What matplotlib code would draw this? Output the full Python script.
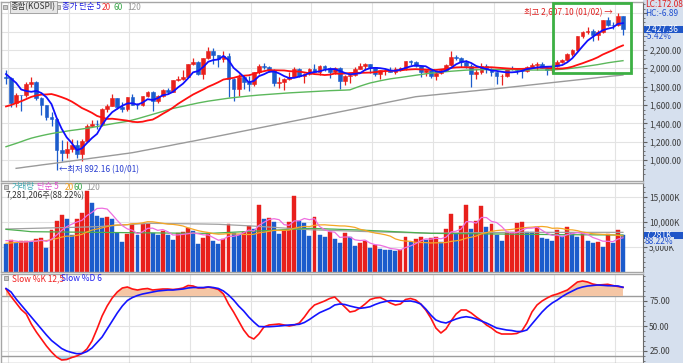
import numpy as np
import pandas as pd
import matplotlib.pyplot as plt
from matplotlib.patches import Rectangle
from matplotlib.transforms import blended_transform_factory

plt.rcParams['font.family'] = ['Noto Sans CJK KR', 'DejaVu Sans']

W, H = 683, 363

# KOSPI monthly candles, 2007/12 .. 2018/02
months = pd.period_range('2007-12', periods=123, freq='M')
opens = [1906, 1897, 1625, 1712, 1704, 1825, 1852, 1675, 1595, 1474,
         1448, 1113, 1076, 1124, 1162, 1063, 1206, 1369, 1396, 1390,
         1557, 1592, 1673, 1581, 1556, 1683, 1602, 1595, 1693, 1742,
         1641, 1698, 1759, 1743, 1873, 1883, 1905, 2051, 2070, 1939,
         2107, 2192, 2142, 2101, 2133, 1880, 1770, 1909, 1848, 1826,
         1956, 2030, 2014, 1982, 1843, 1854, 1882, 1905, 1996, 1912,
         1933, 1997, 1962, 2026, 2005, 1964, 2001, 1863, 1914, 1926,
         1997, 2030, 2045, 2011, 1941, 1980, 1986, 1962, 1995, 2002,
         2076, 2069, 2020, 1964, 1981, 1916, 1949, 1986, 2041, 2127,
         2115, 2074, 2030, 1941, 1963, 2029, 1992, 1961, 1912, 1917,
         1996, 1994, 1983, 1970, 2016, 2035, 2044, 2008, 1983, 2026,
         2068, 2092, 2160, 2205, 2347, 2392, 2403, 2363, 2394, 2523,
         2476, 2474, 2566]
highs = [1978, 1901, 1730, 1714, 1847, 1901, 1863, 1689, 1605, 1524,
         1463, 1217, 1205, 1229, 1223, 1227, 1392, 1438, 1436, 1564,
         1612, 1723, 1676, 1632, 1692, 1723, 1627, 1702, 1757, 1750,
         1712, 1773, 1790, 1876, 1917, 1978, 2052, 2117, 2082, 2113,
         2231, 2218, 2144, 2190, 2172, 1890, 1938, 1931, 1920, 1965,
         2044, 2057, 2025, 1996, 1904, 1890, 1961, 2014, 2000, 1945,
         2004, 2042, 2034, 2034, 2009, 2009, 2010, 1926, 1933, 2016,
         2063, 2060, 2052, 2013, 1982, 1990, 2009, 2018, 2017, 2082,
         2093, 2079, 2027, 1984, 1988, 1962, 1990, 2048, 2190, 2147,
         2126, 2094, 2047, 1992, 2055, 2044, 2004, 1964, 1940, 2001,
         2022, 1998, 2001, 2028, 2063, 2074, 2068, 2014, 2046, 2089,
         2106, 2168, 2210, 2355, 2402, 2453, 2430, 2414, 2528, 2562,
         2507, 2607.10, 2570]
lows = [1832, 1575, 1580, 1537, 1686, 1791, 1652, 1488, 1437, 1366,
        892.16, 992, 1017, 1085, 1018, 992, 1195, 1355, 1333, 1374,
        1528, 1584, 1560, 1520, 1532, 1600, 1552, 1590, 1684, 1532,
        1617, 1687, 1722, 1741, 1861, 1872, 1905, 2040, 1925, 1882,
        2100, 2052, 2016, 2066, 1685, 1644, 1695, 1776, 1750, 1807,
        1942, 1996, 1960, 1808, 1780, 1758, 1868, 1900, 1905, 1845,
        1929, 1946, 1930, 1969, 1890, 1942, 1770, 1818, 1845, 1918,
        1994, 1983, 1948, 1920, 1886, 1930, 1961, 1939, 1966, 1986,
        2036, 2018, 1900, 1919, 1889, 1876, 1939, 1977, 2030, 2086,
        2012, 2007, 1800, 1886, 1940, 1953, 1914, 1829, 1817, 1909,
        1980, 1941, 1892, 1963, 2004, 1985, 2002, 1931, 1953, 2018,
        2060, 2075, 2136, 2194, 2328, 2379, 2300, 2310, 2385, 2466,
        2427, 2460, 2364]
closes = [1897, 1625, 1712, 1704, 1825, 1852, 1675, 1595, 1474, 1448,
          1113, 1076, 1124, 1162, 1063, 1206, 1369, 1396, 1390, 1557,
          1592, 1673, 1581, 1556, 1683, 1602, 1595, 1693, 1742, 1641,
          1698, 1759, 1743, 1873, 1883, 1905, 2051, 2070, 1939, 2107,
          2192, 2142, 2101, 2133, 1880, 1770, 1909, 1848, 1826, 1956,
          2030, 2014, 1982, 1843, 1854, 1882, 1905, 1996, 1912, 1933,
          1997, 1962, 2026, 2005, 1964, 2001, 1863, 1914, 1926, 1997,
          2030, 2045, 2011, 1941, 1980, 1986, 1962, 1995, 2002, 2076,
          2069, 2020, 1964, 1981, 1916, 1949, 1986, 2041, 2127, 2115,
          2074, 2030, 1941, 1963, 2029, 1992, 1961, 1912, 1917, 1996,
          1994, 1983, 1970, 2016, 2035, 2044, 2008, 1983, 2026, 2068,
          2092, 2160, 2205, 2347, 2392, 2403, 2363, 2394, 2523, 2476,
          2467, 2566, 2427.36]
# volume in thousand (K)
volumes = [5500, 6300, 5800, 6100, 6150, 6000, 6500, 6800, 4800, 8300,
           10100, 11300, 10500, 7300, 10500, 11700, 16100, 13700, 11200, 10800,
           10850, 10600, 7800, 6000, 7500, 9500, 7300, 9500, 9550, 7700,
           7300, 8100, 7300, 6300, 7800, 7850, 8700, 8100, 5500, 6700,
           7700, 6100, 5500, 6500, 9600, 7700, 7300, 7900, 9200, 8500,
           13300, 10500, 10700, 10000, 7500, 8300, 9900, 15100, 10100, 9800,
           7100, 10900, 7300, 6900, 7900, 6500, 5700, 7700, 6900, 5100,
           5800, 6100, 4700, 5300, 4530, 4400, 4300, 4100, 4400, 7000,
           6000, 6500, 7000, 6330, 6670, 7000, 5930, 8530, 11600, 7470,
           9130, 13330, 8470, 10130, 13200, 9000, 9530, 7330, 6200, 7870,
           7900, 9800, 9870, 8000, 7970, 8930, 6670, 6630, 6130, 8330,
           7130, 8930, 7670, 7000, 7670, 6130, 5800, 5930, 5000, 7530,
           5800, 8330, 7281]

# the 19 months before the first candle (feed the 5 and 20 averages)
pre_closes = [1317, 1295, 1297, 1352, 1371, 1364, 1419, 1434, 1360, 1417,
              1453, 1542, 1700, 1743, 1933, 1873, 1946, 2064, 1906]
pre_volumes = [4600, 4200, 4300, 4800, 4500, 5000, 5300, 4600, 5000, 5200,
               5800, 6500, 7500, 7200, 7800, 6400, 6200, 7000, 6000]

# long averages
ma60 = [1145, 1163, 1181, 1200, 1220, 1238, 1252, 1265, 1277, 1288,
        1298, 1305, 1315, 1323, 1330, 1338, 1346, 1355, 1365, 1375,
        1385, 1395, 1404, 1413, 1422, 1436, 1450, 1466, 1482, 1498,
        1514, 1530, 1548, 1562, 1574, 1586, 1598, 1610, 1622, 1632,
        1642, 1650, 1658, 1666, 1674, 1680, 1686, 1692, 1698, 1703,
        1708, 1712, 1716, 1720, 1724, 1728, 1732, 1735, 1738, 1741,
        1744, 1747, 1750, 1753, 1756, 1758, 1760, 1762, 1765, 1785,
        1805, 1823, 1840, 1852, 1864, 1875, 1885, 1893, 1900, 1908,
        1916, 1924, 1932, 1940, 1947, 1953, 1958, 1963, 1968, 1972,
        1976, 1980, 1982, 1984, 1985, 1986, 1987, 1987, 1987, 1986,
        1985, 1984, 1983, 1982, 1981, 1981, 1981, 1981, 1983, 1986,
        1990, 1995, 2001, 2008, 2016, 2024, 2032, 2040, 2050, 2060,
        2068, 2076, 2083]
ma120 = [np.nan, np.nan, 909, 916, 924, 931, 938, 946, 953, 960,
         967, 975, 982, 990, 997, 1005, 1012, 1020, 1027, 1035,
         1042, 1050, 1057, 1065, 1072, 1080, 1090, 1101, 1111, 1122,
         1132, 1143, 1153, 1164, 1175, 1185, 1196, 1206, 1217, 1228,
         1239, 1250, 1261, 1272, 1283, 1294, 1305, 1316, 1327, 1338,
         1349, 1360, 1371, 1382, 1393, 1404, 1415, 1426, 1437, 1448,
         1459, 1470, 1481, 1492, 1503, 1514, 1525, 1536, 1547, 1558,
         1569, 1580, 1591, 1602, 1613, 1624, 1635, 1646, 1657, 1668,
         1679, 1690, 1696, 1701, 1707, 1712, 1718, 1723, 1729, 1734,
         1740, 1745, 1751, 1756, 1762, 1767, 1773, 1778, 1784, 1790,
         1796, 1802, 1808, 1814, 1820, 1826, 1832, 1838, 1844, 1850,
         1856, 1862, 1868, 1874, 1880, 1886, 1892, 1898, 1904, 1910,
         1916, 1921, 1927]
vol_ma60 = [8470, 8380, 8290, 8200, 8100, 8000, 7990, 7980, 7970, 7960,
            7950, 7940, 7930, 7920, 7910, 7900, 7890, 7880, 7870, 7860,
            7850, 7840, 7830, 7820, 7810, 7800, 7790, 7780, 7770, 7760,
            7750, 7740, 7730, 7720, 7710, 7700, 7690, 7680, 7680, 7670,
            7670, 7700, 7750, 7800, 7850, 7900, 7950, 8000, 8050, 8100,
            8150, 8200, 8250, 8300, 8350, 8400, 8450, 8500, 8550, 8620,
            8670, 8640, 8610, 8580, 8540, 8510, 8470, 8440, 8400, 8370,
            8340, 8290, 8240, 8190, 8150, 8100, 8050, 8000, 7960, 7910,
            7860, 7810, 7760, 7720, 7670, 7660, 7650, 7640, 7630, 7620,
            7610, 7600, 7590, 7580, 7570, 7560, 7550, 7540, 7530, 7520,
            7510, 7500, 7490, 7480, 7470, 7460, 7450, 7440, 7430, 7420,
            7410, 7400, 7400, 7390, 7380, 7380, 7370, 7360, 7360, 7350,
            7350, 7340, 7340]
vol_ma120 = [8540, 8560, 8590, 8610, 8640, 8660, 8690, 8710, 8740, 8760,
             8790, 8810, 8840, 8860, 8890, 8920, 8950, 8980, 9000, 9070,
             9140, 9200, 9270, 9340, 9400, 9470, 9540, 9600, 9670, 9660,
             9650, 9640, 9620, 9610, 9600, 9590, 9580, 9560, 9550, 9540,
             9520, 9500, 9480, 9430, 9380, 9330, 9280, 9230, 9180, 9120,
             9060, 9000, 8930, 8870, 8800, 8730, 8670, 8600, 8530, 8470,
             8400, 8370, 8330, 8300, 8270, 8230, 8200, 8170, 8130, 8100,
             8060, 8030, 8000, 7970, 7950, 7920, 7900, 7870, 7850, 7820,
             7800, 7770, 7750, 7730, 7700, 7710, 7720, 7730, 7740, 7750,
             7760, 7770, 7780, 7790, 7800, 7810, 7820, 7830, 7840, 7850,
             7860, 7870, 7870, 7870, 7870, 7870, 7870, 7870, 7870, 7870,
             7870, 7870, 7870, 7870, 7870, 7870, 7870, 7870, 7870, 7870,
             7870, 7870, 7870]

# slow stochastics (12,5) / (6)
slow_k = [87, 79.5, 73, 66.5, 62, 52, 44, 37, 30, 24,
          19, 16, 16.5, 18.5, 20, 22.5, 27, 35, 47, 60,
          70, 78, 84, 88, 89, 87, 86, 87, 87.5, 86,
          86.5, 87, 87, 86.5, 87, 88, 90.5, 90, 88, 88,
          89, 88, 86.5, 82, 72, 64, 55, 46, 39.5, 37,
          42, 49, 51, 51.5, 52, 51, 50, 51, 53, 59,
          66, 71, 73, 75, 77.5, 79, 74, 69, 64, 65,
          68, 72, 76.5, 78, 78.5, 76, 73, 71, 72, 76.5,
          77.5, 76, 72, 66, 58, 48, 43, 47, 55, 62,
          66, 66, 63, 59, 55.5, 51, 48, 44, 42, 42,
          42, 42.5, 45, 53, 64, 71, 75, 78, 80.5, 82,
          84, 86, 90, 94, 95, 94, 92, 91, 91.3, 91.7,
          90.5, 89.5, 88.7]
slow_d = [87.5, 84, 77, 71, 65, 59, 53, 47, 41, 35.5,
          31.5, 27.5, 25, 23.5, 22.3, 22.5, 24.5, 28, 33.5, 39,
          47, 55, 63, 70, 75.5, 78.5, 80.5, 82, 83, 84,
          85, 85.5, 86, 86, 86.5, 87, 88, 88.5, 88.5, 88.5,
          89, 88.5, 87.5, 85, 81, 76, 70, 65, 59, 54,
          49.5, 49.3, 49.3, 49.6, 50, 50.5, 51, 51.3, 51.7, 53.5,
          56.5, 60, 63.3, 65.5, 67.7, 71, 72, 71.5, 70, 68.8,
          67.7, 68.3, 69.3, 71.5, 73.3, 74.5, 75.3, 75, 74.7, 74.8,
          75, 74, 72, 67, 61, 56, 54, 53, 55, 57,
          58.5, 59.3, 58.5, 57, 55, 53, 50.5, 48, 47, 46,
          45.5, 44.5, 44.5, 46, 52, 58, 64, 69, 73, 76,
          79.5, 82.5, 85, 87.5, 89, 90, 90.5, 91, 90.7, 90.3,
          90.2, 90, 88.7]

RED = '#e8201c'
BLUE = '#1c5ccc'
GRID = '#e3e3e3'
SPINE = '#a6a6a6'
LABEL = '#3c3c3c'
STRIP = '#d6e0ee'
TAG = '#1f56c8'

o = np.array(opens, float)
h = np.array(highs, float)
l = np.array(lows, float)
c = np.array(closes, float)
v = np.array(volumes, float)
n = len(c)
x = np.arange(n)

all_c = pd.Series(pre_closes + closes, dtype=float)
ma5 = all_c.rolling(5).mean().values[len(pre_closes):]
ma20 = all_c.rolling(20).mean().values[len(pre_closes):]
all_v = pd.Series(pre_volumes + volumes, dtype=float)
vma5 = all_v.rolling(5).mean().values[len(pre_volumes):]
vma20 = all_v.rolling(20).mean().values[len(pre_volumes):]
prev_v = all_v.values[len(pre_volumes) - 1:-1]

fig = plt.figure(figsize=(W / 100, H / 100), dpi=100)
fig.patch.set_facecolor('white')


def px_axes(x0, y0, x1, y1):
    return fig.add_axes([x0 / W, 1 - y1 / H, (x1 - x0) / W, (y1 - y0) / H])


def ftext(px, py, s, **kw):
    kw.setdefault('fontsize', 6)
    kw.setdefault('va', 'center')
    return fig.text(px / W, 1 - py / H, s, **kw)


def icon(px, py):
    fig.add_artist(Rectangle((px / W, 1 - (py + 2.5) / H), 4 / W, 4 / H,
                             transform=fig.transFigure, facecolor='#c8c8c8',
                             edgecolor='#808080', lw=0.5))


def value_tag(ax, val, label, half):
    # filled tag across the right strip at the last value
    tr = blended_transform_factory(fig.transFigure, ax.transData)
    ax.add_patch(Rectangle((644 / W, val - half), 39 / W, 2 * half, transform=tr,
                           facecolor=TAG, edgecolor='none', clip_on=False, zorder=10))
    ax.text(646 / W, val, label, transform=tr, color='white', fontsize=6,
            ha='left', va='center', clip_on=False, zorder=11)


# right scale strip
fig.add_artist(Rectangle((643 / W, 0), 40 / W, 1, transform=fig.transFigure,
                         facecolor=STRIP, edgecolor='none', zorder=-5))

ax_p = px_axes(1, 2, 643, 181)
ax_v = px_axes(1, 183, 643, 272)
ax_s = px_axes(1, 274, 643, 363)

year_lines = [i - 0.6 for i, m in enumerate(months) if m.month == 1]
for ax in (ax_p, ax_v, ax_s):
    ax.set_xlim(-0.99, 125.96)
    ax.set_xticks(year_lines)
    ax.tick_params(axis='x', length=0, labelbottom=False)
    ax.grid(True, color=GRID, lw=0.8)
    ax.set_axisbelow(True)
    ax.yaxis.tick_right()
    ax.tick_params(axis='y', which='both', direction='out', colors='#606060',
                   labelcolor=LABEL, labelsize=6, pad=1.5)
    ax.tick_params(axis='y', which='major', length=3)
    ax.tick_params(axis='y', which='minor', length=1.5)
    for s in ('top', 'bottom', 'left'):
        ax.spines[s].set_color(SPINE)
        ax.spines[s].set_linewidth(1.0)
    ax.spines['right'].set_color('#6a6a6a')
    ax.spines['right'].set_linewidth(0.8)

# ---- price panel
ax_p.set_ylim(771, 2723)
ax_p.set_yticks(np.arange(1000, 2601, 200))
ax_p.set_yticks(np.arange(850, 2701, 50), minor=True)
ax_p.set_yticklabels([f'{t:,.2f}' if t <= 2200 else '' for t in np.arange(1000, 2601, 200)])

up = c >= o
col = np.where(up, RED, BLUE)
ax_p.vlines(x, l, h, colors=col, lw=0.9, zorder=2)
body_lo = np.minimum(o, c)
body_h = np.maximum(np.abs(c - o), 6)
ax_p.bar(x, body_h, bottom=body_lo, width=0.74, color=col, edgecolor=col,
         lw=0.4, zorder=3)

ax_p.plot(x, ma120, color='#9a9a9a', lw=1.0, zorder=4)
ax_p.plot(x, ma60, color='#5cb85c', lw=1.0, zorder=4)
ax_p.plot(x, ma20, color='#ff1010', lw=1.3, zorder=5)
ax_p.plot(x, ma5, color='#1010ff', lw=1.3, zorder=6)

i_hi = int(np.argmax(h))
i_lo = int(np.argmin(l))
ax_p.text(i_hi - 1.1, h[i_hi], f'최고 {h[i_hi]:,.2f} (01/02) →', color='#e02020',
          fontsize=6, ha='right', va='center', zorder=7)
ax_p.text(i_lo + 0.4, l[i_lo], f'←최저 {l[i_lo]:,.2f} (10/01)', color='#2a3fd0',
          fontsize=6, ha='left', va='center', zorder=7)

# highlight box over the last rally
ax_p.add_patch(Rectangle((n - 14.8, 1950), 15.4, 2716 - 1950, fill=False,
                         edgecolor='#3cb043', lw=2, zorder=8, clip_on=False))

# right side value tags
ftext(645, 4.5, 'LC:172.08', color='#e02020', fontsize=6)
ftext(645, 13.5, 'HC:-6.89', color='#2050d0', fontsize=6)
value_tag(ax_p, c[-1], f'{c[-1]:,.2f}', 38)
ftext(645, 36.5, '-5.42%', color='#2050d0', fontsize=6)

# ---- volume panel
ax_v.set_ylim(-60, 17740)
ax_v.set_yticks([5000, 10000, 15000])
ax_v.set_yticks(np.arange(1000, 17001, 1000), minor=True)
ax_v.set_yticklabels(['5,000K', '10,000K', '15,000K'])
vcol = np.where(v >= prev_v, RED, BLUE)
ax_v.bar(x, v, width=0.78, color=vcol, edgecolor=vcol, lw=0.3, zorder=2)
ax_v.plot(x, vol_ma120, color='#a0a0a0', lw=0.9, zorder=3)
ax_v.plot(x, vol_ma60, color='#4caf50', lw=0.9, zorder=3)
ax_v.plot(x, vma20, color='#f5a623', lw=0.9, zorder=3)
ax_v.plot(x, vma5, color='#ee6ee0', lw=0.9, zorder=4)
value_tag(ax_v, v[-1], f'{v[-1]:,.0f}K', 700)
ftext(645, 241.5, '88.22%', color='#2050d0', fontsize=6,
      bbox=dict(boxstyle='square,pad=0.05', facecolor=STRIP, edgecolor='none'))

# ---- stochastic panel
k = np.array(slow_k)
d = np.array(slow_d)
ax_s.set_ylim(13, 102)
ax_s.set_yticks([25, 50, 75])
ax_s.set_yticks(np.arange(15, 101, 5), minor=True)
ax_s.set_yticklabels(['25.00', '50.00', '75.00'])
for lvl in (80, 20):
    ax_s.axhline(lvl, color='#9c9c9c', lw=1.0, zorder=1)
ax_s.fill_between(x, 80, k, where=k >= 80, interpolate=True, color='#f5c6a5', lw=0, zorder=2)
ax_s.fill_between(x, 20, k, where=k <= 20, interpolate=True, color='#a9d8ec', lw=0, zorder=2)
ax_s.plot(x, k, color='#ff1414', lw=1.2, zorder=3)
ax_s.plot(x, d, color='#1414ff', lw=1.2, zorder=4)

# ---- legends
icon(3, 6.5)
ftext(11, 7, '종합(KOSPI)', color='#333333',
      bbox=dict(boxstyle='square,pad=0.15', facecolor='#e6e6e6', edgecolor='#8a8a8a', lw=0.5))
icon(56, 6.5)
ftext(62, 7, '종가 단순 5', color='#2020e0')
ftext(102, 7, '20', color='#f03030')
ftext(114, 7, '60', color='#3aa64a')
ftext(127, 7, '120', color='#9a9a9a')

icon(4, 186)
ftext(12, 187, '거래량', color='#40a8b0')
ftext(37, 187, '단순 5', color='#e050d0')
ftext(65, 187, '20', color='#f0a020')
ftext(74, 187, '60', color='#3aa64a')
ftext(86, 187, '120', color='#9a9a9a')
ftext(6, 196, '7,281,206주(88.22%)', color='#333333')

icon(4, 277.5)
ftext(12, 278.5, 'Slow %K 12,5', color='#f02020')
ftext(61, 278.5, 'Slow %D 6', color='#2020f0')

fig.savefig('out.png', dpi=100)
